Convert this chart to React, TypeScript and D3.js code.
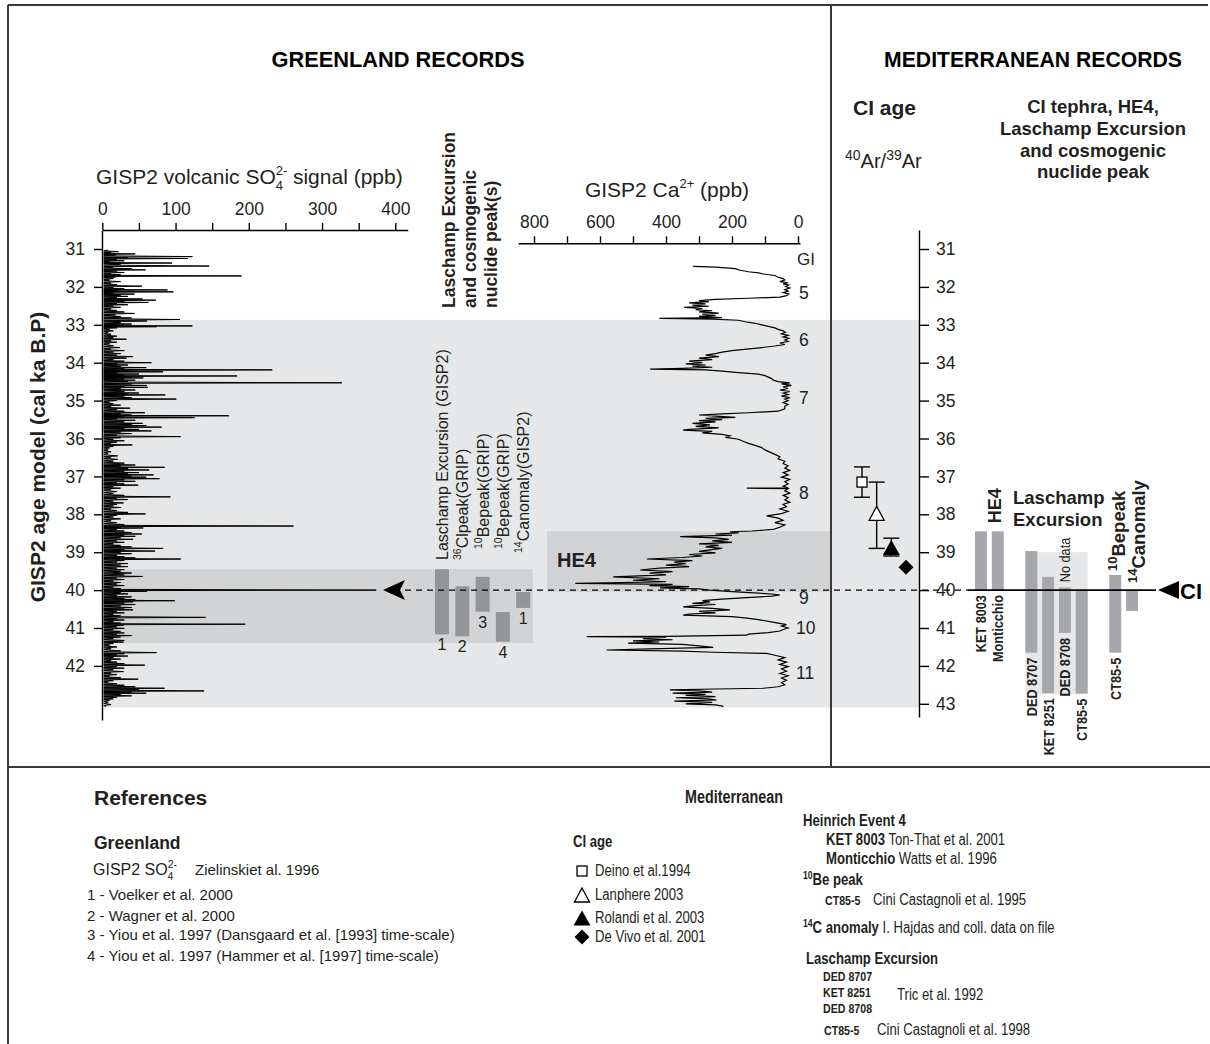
import { useEffect, useRef } from "react";
import * as d3 from "d3";

const FONT = "'Liberation Sans', Arial, Helvetica, sans-serif";
// the source uses a condensed face; squeeze Liberation Sans horizontally instead
const NS = 0.82;

// age axis (cal ka B.P.)
const leftAgeTicks = [31, 32, 33, 34, 35, 36, 37, 38, 39, 40, 41, 42];
const rightAgeTicks = [31, 32, 33, 34, 35, 36, 37, 38, 39, 40, 41, 42, 43];
const so4Ticks = [0, 50, 100, 150, 200, 250, 300, 350, 400];
const caTicks = [0, 100, 200, 300, 400, 500, 600, 700, 800];

// GISP2 volcanic SO4 signal: [age ka, ppb]
const so4Series: [number, number][] = [
  [31.03, 8], [31.07, 22], [31.1, 12], [31.13, 45], [31.16, 18], [31.2, 123], [31.23, 35], [31.25, 117],
  [31.28, 20], [31.31, 30], [31.34, 10], [31.37, 95], [31.4, 25], [31.45, 146], [31.48, 15], [31.52, 40],
  [31.55, 59], [31.58, 20], [31.62, 30], [31.65, 12], [31.68, 25], [31.71, 190], [31.74, 18], [31.78, 15],
  [31.82, 10], [31.86, 25], [31.9, 12], [31.94, 20], [31.98, 54], [32.02, 15], [32.05, 30], [32.08, 89],
  [32.11, 20], [32.13, 97], [32.16, 15], [32.19, 44], [32.22, 25], [32.25, 35], [32.28, 20], [32.32, 55],
  [32.35, 73], [32.38, 30], [32.41, 63], [32.44, 20], [32.47, 35], [32.5, 15], [32.54, 25], [32.58, 12],
  [32.62, 20], [32.66, 30], [32.7, 44], [32.74, 18], [32.78, 25], [32.82, 40], [32.86, 106], [32.9, 61],
  [32.94, 25], [32.98, 40], [33.01, 30], [33.03, 123], [33.05, 74], [33.08, 20], [33.12, 10], [33.16, 15],
  [33.2, 8], [33.25, 12], [33.3, 20], [33.34, 15], [33.38, 33], [33.42, 12], [33.46, 20], [33.5, 10],
  [33.55, 15], [33.6, 24], [33.64, 12], [33.68, 30], [33.72, 15], [33.76, 25], [33.8, 20], [33.84, 42],
  [33.88, 33], [33.92, 15], [33.96, 30], [34.0, 67], [34.03, 20], [34.06, 35], [34.1, 25], [34.13, 60],
  [34.16, 30], [34.19, 232], [34.22, 40], [34.24, 83], [34.27, 20], [34.3, 50], [34.33, 30], [34.35, 184],
  [34.38, 40], [34.4, 56], [34.43, 30], [34.46, 45], [34.49, 35], [34.53, 327], [34.56, 40], [34.6, 61],
  [34.63, 30], [34.65, 62], [34.68, 25], [34.72, 45], [34.76, 30], [34.8, 50], [34.83, 35], [34.85, 86],
  [34.88, 30], [34.92, 40], [34.96, 101], [35.0, 20], [35.04, 10], [35.08, 15], [35.12, 25], [35.16, 12],
  [35.2, 38], [35.24, 20], [35.28, 30], [35.32, 58], [35.35, 25], [35.38, 40], [35.4, 173], [35.43, 30],
  [35.45, 126], [35.48, 20], [35.52, 45], [35.56, 30], [35.6, 55], [35.63, 40], [35.66, 60], [35.7, 81],
  [35.73, 30], [35.76, 50], [35.8, 67], [35.83, 25], [35.87, 40], [35.91, 20], [35.95, 107], [35.98, 25],
  [36.02, 15], [36.06, 30], [36.1, 20], [36.14, 12], [36.17, 41], [36.21, 15], [36.25, 10], [36.3, 8],
  [36.35, 12], [36.4, 8], [36.46, 21], [36.5, 12], [36.55, 21], [36.6, 15], [36.65, 30], [36.7, 45],
  [36.73, 25], [36.76, 85], [36.79, 35], [36.83, 64], [36.86, 30], [36.9, 50], [36.93, 35], [36.96, 70],
  [36.99, 40], [37.02, 60], [37.06, 78], [37.09, 30], [37.13, 45], [37.17, 20], [37.2, 30], [37.23, 49],
  [37.27, 15], [37.31, 25], [37.35, 12], [37.4, 20], [37.45, 15], [37.5, 30], [37.54, 93], [37.57, 20],
  [37.61, 35], [37.65, 15], [37.7, 29], [37.74, 20], [37.78, 15], [37.82, 25], [37.86, 12], [37.9, 20],
  [37.95, 35], [37.99, 59], [38.03, 20], [38.07, 15], [38.12, 25], [38.17, 12], [38.22, 20], [38.27, 30],
  [38.31, 261], [38.34, 25], [38.36, 56], [38.4, 20], [38.44, 30], [38.48, 40], [38.52, 54], [38.55, 30],
  [38.58, 45], [38.62, 25], [38.66, 42], [38.7, 20], [38.74, 30], [38.78, 15], [38.82, 25], [38.86, 40],
  [38.9, 83], [38.93, 30], [38.97, 72], [39.0, 25], [39.04, 40], [39.08, 20], [39.12, 30], [39.15, 45],
  [39.18, 107], [39.22, 30], [39.26, 20], [39.3, 35], [39.34, 25], [39.38, 35], [39.42, 20], [39.46, 30],
  [39.5, 25], [39.55, 40], [39.6, 30], [39.64, 55], [39.68, 20], [39.72, 30], [39.76, 15], [39.8, 25],
  [39.84, 20], [39.88, 30], [39.92, 15], [39.96, 25], [40.0, 374], [40.03, 61], [40.06, 25], [40.1, 35],
  [40.14, 20], [40.18, 40], [40.22, 30], [40.25, 45], [40.28, 99], [40.31, 42], [40.34, 30], [40.38, 45],
  [40.42, 25], [40.46, 40], [40.5, 30], [40.52, 42], [40.56, 20], [40.6, 30], [40.64, 15], [40.68, 25],
  [40.72, 141], [40.75, 20], [40.79, 30], [40.83, 15], [40.87, 25], [40.9, 195], [40.93, 29], [40.97, 20],
  [41.01, 30], [41.05, 15], [41.09, 25], [41.13, 30], [41.17, 20], [41.2, 40], [41.24, 25], [41.28, 15],
  [41.33, 30], [41.37, 29], [41.41, 15], [41.45, 10], [41.5, 20], [41.55, 12], [41.6, 25], [41.65, 74],
  [41.68, 30], [41.71, 20], [41.74, 35], [41.78, 15], [41.82, 25], [41.86, 12], [41.9, 20], [41.94, 30],
  [41.98, 58], [42.02, 20], [42.06, 30], [42.1, 15], [42.15, 29], [42.19, 12], [42.23, 20], [42.27, 10],
  [42.31, 25], [42.35, 49], [42.39, 15], [42.43, 8], [42.47, 20], [42.51, 30], [42.55, 45], [42.59, 85],
  [42.62, 50], [42.66, 139], [42.69, 40], [42.72, 60], [42.75, 25], [42.79, 40], [42.83, 20], [42.87, 15],
  [42.91, 10], [42.96, 8], [43.02, 12], [43.07, 5],
];

// GISP2 Ca2+ record: [age ka, ppb]
const caSeries: [number, number][] = [
  [31.46, 318], [31.48, 250], [31.52, 190], [31.56, 175], [31.6, 150], [31.63, 120], [31.66, 105], [31.7, 70],
  [31.74, 62], [31.78, 45], [31.82, 40], [31.86, 55], [31.89, 30], [31.92, 45], [31.95, 28], [31.99, 38],
  [32.03, 25], [32.07, 40], [32.11, 30], [32.15, 45], [32.19, 28], [32.23, 35], [32.27, 55], [32.3, 150],
  [32.33, 250], [32.36, 300], [32.39, 270], [32.42, 330], [32.45, 280], [32.48, 320], [32.51, 270], [32.54, 345],
  [32.57, 290], [32.6, 310], [32.63, 260], [32.66, 300], [32.69, 240], [32.72, 290], [32.75, 250], [32.78, 300],
  [32.81, 230], [32.83, 420], [32.85, 260], [32.88, 180], [32.92, 160], [32.96, 130], [33.0, 110], [33.04, 90],
  [33.08, 70], [33.12, 60], [33.16, 45], [33.2, 38], [33.24, 50], [33.28, 30], [33.32, 45], [33.36, 28],
  [33.4, 40], [33.44, 30], [33.48, 55], [33.52, 40], [33.56, 70], [33.6, 110], [33.64, 155], [33.68, 200],
  [33.72, 230], [33.76, 250], [33.8, 280], [33.84, 240], [33.88, 300], [33.92, 260], [33.96, 330], [34.0, 290],
  [34.03, 340], [34.06, 280], [34.09, 320], [34.12, 260], [34.15, 350], [34.17, 448], [34.19, 280], [34.22, 230],
  [34.26, 180], [34.3, 120], [34.34, 100], [34.38, 90], [34.42, 80], [34.46, 75], [34.5, 60], [34.53, 25],
  [34.56, 50], [34.6, 20], [34.64, 45], [34.68, 30], [34.72, 55], [34.76, 25], [34.8, 45], [34.84, 30],
  [34.88, 50], [34.92, 25], [34.96, 40], [35.0, 30], [35.05, 45], [35.1, 30], [35.15, 40], [35.22, 40],
  [35.28, 60], [35.32, 150], [35.35, 230], [35.38, 300], [35.41, 250], [35.44, 190], [35.47, 280], [35.5, 230],
  [35.53, 300], [35.56, 250], [35.6, 320], [35.64, 267], [35.68, 310], [35.72, 240], [35.76, 330], [35.78, 348],
  [35.81, 260], [35.85, 290], [35.89, 230], [35.93, 206], [35.97, 220], [36.02, 180], [36.08, 165], [36.13, 150],
  [36.18, 130], [36.24, 110], [36.3, 100], [36.36, 85], [36.42, 70], [36.48, 55], [36.54, 60], [36.6, 40],
  [36.66, 45], [36.72, 30], [36.78, 40], [36.84, 25], [36.9, 45], [36.96, 30], [37.02, 50], [37.08, 25],
  [37.14, 40], [37.2, 30], [37.26, 45], [37.3, 30], [37.31, 155], [37.32, 30], [37.38, 40], [37.44, 25],
  [37.5, 45], [37.56, 30], [37.62, 40], [37.68, 25], [37.74, 45], [37.8, 35], [37.86, 55], [37.92, 30],
  [37.98, 50], [38.04, 95], [38.1, 60], [38.16, 45], [38.22, 70], [38.28, 40], [38.34, 55], [38.4, 75],
  [38.44, 140], [38.46, 206], [38.49, 180], [38.52, 250], [38.55, 200], [38.59, 357], [38.62, 250], [38.66, 210],
  [38.7, 260], [38.74, 200], [38.78, 300], [38.82, 240], [38.86, 280], [38.9, 230], [38.94, 267], [38.98, 300],
  [39.02, 250], [39.06, 330], [39.1, 290], [39.14, 350], [39.18, 458], [39.22, 320], [39.26, 375], [39.3, 340],
  [39.34, 400], [39.38, 330], [39.42, 420], [39.47, 478], [39.51, 380], [39.55, 450], [39.6, 400], [39.65, 560],
  [39.7, 420], [39.74, 500], [39.78, 400], [39.82, 675], [39.85, 380], [39.88, 450], [39.91, 330], [39.94, 418],
  [39.97, 300], [40.0, 267], [40.04, 200], [40.08, 120], [40.11, 70], [40.13, 55], [40.16, 80], [40.2, 155],
  [40.24, 230], [40.28, 290], [40.31, 267], [40.35, 320], [40.38, 250], [40.41, 310], [40.44, 348], [40.48, 260],
  [40.52, 206], [40.56, 300], [40.6, 250], [40.63, 330], [40.66, 348], [40.7, 200], [40.74, 155], [40.78, 120],
  [40.83, 85], [40.87, 60], [40.91, 35], [40.95, 50], [41.0, 30], [41.04, 45], [41.08, 55], [41.12, 90],
  [41.16, 150], [41.19, 155], [41.22, 400], [41.23, 640], [41.25, 400], [41.28, 470], [41.31, 380], [41.34, 500],
  [41.37, 420], [41.4, 515], [41.43, 350], [41.47, 300], [41.51, 257], [41.55, 450], [41.58, 580], [41.61, 350],
  [41.64, 257], [41.67, 95], [41.72, 70], [41.78, 40], [41.84, 60], [41.9, 35], [41.96, 55], [42.02, 30],
  [42.08, 50], [42.14, 35], [42.2, 55], [42.26, 30], [42.32, 50], [42.38, 35], [42.44, 50], [42.5, 40],
  [42.55, 60], [42.59, 105], [42.61, 250], [42.63, 388], [42.66, 300], [42.69, 260], [42.72, 380], [42.75, 280],
  [42.78, 340], [42.81, 250], [42.84, 370], [42.87, 270], [42.9, 247], [42.93, 375], [42.96, 260], [43.0, 340],
  [43.03, 250], [43.07, 226],
];

// Greenland interstadials
const giNames = ["5", "6", "7", "8", "9", "10", "11"];
const giAges = [32.16, 33.4, 34.93, 37.44, 40.2, 41.0, 42.19];

// shaded intervals (ka)
const lightBand = [32.87, 43.1];
const laschampBand = [39.45, 41.4];
const he4Band = [38.45, 40.05];
const noDataBand = [39.0, 42.75];
const ciAge = 40.0;

// Greenland Laschamp / cosmogenic nuclide peaks
const grBarSup = ["", "36", "10", "10", "14"];
const grBarName = ["Laschamp Excursion (GISP2)", "Clpeak(GRIP)", "Bepeak(GRIP)", "Bepeak(GRIP)", "Canomaly(GISP2)"];
const grBarRef = ["1", "2", "3", "4", "1"];
const grBarFrom = [39.45, 39.9, 39.65, 40.58, 40.05];
const grBarTo = [41.17, 41.22, 40.57, 41.36, 40.47];

// CI 40Ar/39Ar ages
const ciAgeNames = ["Deino et al.1994", "Lanphere 2003", "Rolandi et al. 2003", "De Vivo et al. 2001"];
const ciAgeValue = [37.15, 38.0, 38.9, 39.4];
const ciAgeLow = [36.75, 37.15, 38.63, null];
const ciAgeHigh = [37.55, 38.9, 39.1, null];

// Mediterranean records
const medSlots = ["ket8003", "monticchio", "gapA", "ded8707", "ket8251", "ded8708", "ct855L", "gapB", "ct855B", "c14"];
const medBarSlot = ["ket8003", "monticchio", "ded8707", "ket8251", "ded8708", "ct855L", "ct855B", "c14"];
const medBarLabel = ["KET 8003", "Monticchio", "DED 8707", "KET 8251", "DED 8708", "CT85-5", "CT85-5", ""];
const medBarFrom = [38.45, 38.45, 38.97, 39.65, 39.93, 40.0, 39.6, 40.0];
const medBarTo = [40.0, 40.0, 41.65, 42.72, 41.13, 42.73, 41.65, 40.55];

const y = d3.scaleLinear().domain([31, 43]).range([249, 703.8]);
const xSo4 = d3.scaleLinear().domain([0, 400]).range([102.3, 395.3]);
const xCa = d3.scaleLinear().domain([0, 800]).range([798, 534]);
const xGr = d3.scaleBand<number>().domain(d3.range(grBarRef.length)).range([435, 530.2]).paddingInner(0.31);
const xMed = d3.scaleBand<string>().domain(medSlots).range([975, 1138]).paddingInner(0.286);
const xCi = d3.scalePoint<string>().domain(ciAgeNames).range([862, 906]);

const LINE = "#3a3a3a";
const INK = "#231f20";

function so4Path() {
  const pts: [number, number][] = [];
  so4Series.forEach((d, i) => {
    pts.push(d);
    const n = so4Series[i + 1];
    if (n) pts.push([(d[0] + n[0]) / 2, 2]);
  });
  return d3.line<[number, number]>().x((d) => xSo4(d[1])).y((d) => y(d[0]))(pts) ?? "";
}

function caPath() {
  return d3.line<[number, number]>().x((d) => xCa(d[1])).y((d) => y(d[0]))(caSeries) ?? "";
}

function Marker({ i, cx, cy }: { i: number; cx: number; cy: number }) {
  if (i === 0) return <rect x={cx - 5} y={cy - 5} width={10} height={10} fill="#fff" stroke="#000" strokeWidth={1.3} />;
  if (i === 1)
    return <path d={`M${cx},${cy - 8} L${cx + 7.5},${cy + 6} L${cx - 7.5},${cy + 6}Z`} fill="#fff" stroke="#000" strokeWidth={1.3} />;
  if (i === 2) return <path d={`M${cx},${cy - 8.5} L${cx + 8.5},${cy + 6.5} L${cx - 8.5},${cy + 6.5}Z`} fill="#000" />;
  return <path d={`M${cx},${cy - 7.5} L${cx + 7.5},${cy} L${cx},${cy + 7.5} L${cx - 7.5},${cy}Z`} fill="#000" />;
}

// condensed text
function NText({ x, y: ty, rot, children, ...rest }: any) {
  return (
    <text transform={`translate(${x},${ty})${rot ? " rotate(-90)" : ""} scale(${NS},1)`} fill={INK} {...rest}>
      {children}
    </text>
  );
}

export default function App() {
  const so4AxisRef = useRef<SVGGElement>(null);
  const caAxisRef = useRef<SVGGElement>(null);
  const leftAxisRef = useRef<SVGGElement>(null);
  const rightAxisRef = useRef<SVGGElement>(null);

  useEffect(() => {
    const style = (g: d3.Selection<SVGGElement, unknown, null, undefined>) => {
      g.selectAll("path,line").attr("stroke", "#000").attr("stroke-width", 1.4);
      g.selectAll("text").attr("font-family", FONT).attr("font-size", 17.5).attr("fill", INK);
    };
    const so4Axis = xSo4.copy().domain([0, 417]).range([xSo4(0), xSo4(417)]);
    d3.select(so4AxisRef.current!)
      .call(
        d3.axisTop(so4Axis).tickValues(so4Ticks).tickSize(7).tickPadding(8).tickSizeOuter(0)
          .tickFormat((d) => ((d as number) % 100 === 0 ? String(d) : ""))
      )
      .call(style);
    const caAxis = xCa.copy().domain([-6, 848]).range([xCa(-6), xCa(848)]);
    d3.select(caAxisRef.current!)
      .call(
        d3.axisTop(caAxis).tickValues(caTicks).tickSize(7).tickPadding(8).tickSizeOuter(0)
          .tickFormat((d) => ((d as number) % 200 === 0 ? String(d) : ""))
      )
      .call(style);
    const leftAxis = y.copy().domain([30.5, 43.43]).range([y(30.5), y(43.43)]);
    d3.select(leftAxisRef.current!)
      .call(d3.axisLeft(leftAxis).tickValues(leftAgeTicks).tickSize(8).tickPadding(9).tickSizeOuter(0))
      .call(style);
    const rightAxis = y.copy().domain([30.5, 43.35]).range([y(30.5), y(43.35)]);
    d3.select(rightAxisRef.current!)
      .call(d3.axisRight(rightAxis).tickValues(rightAgeTicks).tickSize(10).tickPadding(7).tickSizeOuter(0))
      .call(style);
  }, []);

  const yCi = y(ciAge);
  const grLabelStart = [560, 560, 549, 549, 553];
  const legendY = [876, 900, 923, 942];
  const medBand = xMed.bandwidth();

  return (
    <svg width={1210} height={1044} style={{ position: "absolute", left: 0, top: 0, background: "#fff" }} fontFamily={FONT}>
      <rect width={1210} height={1044} fill="#fff" />

      {/* shaded intervals */}
      <rect x={102} y={y(lightBand[0])} width={919 - 102} height={y(lightBand[1]) - y(lightBand[0])} fill="#e6e7e8" />
      <rect x={102} y={y(laschampBand[0])} width={533 - 102} height={y(laschampBand[1]) - y(laschampBand[0])} fill="#d1d3d4" />
      <rect x={547} y={y(he4Band[0])} width={830 - 547} height={y(he4Band[1]) - y(he4Band[0])} fill="#d1d3d4" />
      <rect
        x={xMed("ded8707")!}
        y={y(noDataBand[0])}
        width={xMed("ct855L")! + medBand - xMed("ded8707")!}
        height={y(noDataBand[1]) - y(noDataBand[0])}
        fill="#e6e7e8"
      />

      {/* Greenland nuclide bars */}
      {grBarRef.map((r, i) => (
        <g key={"gb" + i}>
          <rect x={xGr(i)!} y={y(grBarFrom[i])} width={xGr.bandwidth()} height={y(grBarTo[i]) - y(grBarFrom[i])} fill="#939598" />
          <text x={xGr(i)! + xGr.bandwidth() / 2} y={y(grBarTo[i]) + 16} textAnchor="middle" fontSize={16} fill={INK}>
            {r}
          </text>
          <text transform={`translate(${xGr(i)! + xGr.bandwidth() / 2 + 6},${grLabelStart[i]}) rotate(-90)`} fontSize={16} fill={INK}>
            {grBarSup[i] && (
              <tspan fontSize={10.5} dy={-7}>
                {grBarSup[i]}
              </tspan>
            )}
            <tspan dy={grBarSup[i] ? 7 : 0}>{grBarName[i]}</tspan>
          </text>
        </g>
      ))}

      {/* Mediterranean bars */}
      {medBarSlot.map((s, i) => (
        <g key={"mb" + i}>
          <rect x={xMed(s)!} y={y(medBarFrom[i])} width={medBand} height={y(medBarTo[i]) - y(medBarFrom[i])} fill="#a5a7aa" />
          {medBarLabel[i] && (
            <NText x={xMed(s)! + medBand / 2 + 5.5} y={y(medBarTo[i]) + 5} rot textAnchor="end" fontWeight="bold" fontSize={15.5}>
              {medBarLabel[i]}
            </NText>
          )}
        </g>
      ))}
      <NText x={xMed("ded8708")! + medBand / 2 + 5} y={y(noDataBand[0]) + 30} rot fontSize={15.5}>
        No data
      </NText>

      {/* signals */}
      <path d={so4Path()} fill="none" stroke="#000" strokeWidth={1} />
      <path d={caPath()} fill="none" stroke="#000" strokeWidth={1.2} />

      {/* axes */}
      <g ref={so4AxisRef} transform="translate(0,230)" />
      <g ref={caAxisRef} transform="translate(0,243.3)" />
      <g ref={leftAxisRef} transform="translate(102,0)" />
      <g ref={rightAxisRef} transform="translate(919,0)" />

      {/* CI line */}
      <line x1={405} x2={968} y1={yCi} y2={yCi} stroke="#000" strokeWidth={1.4} strokeDasharray="6,5" />
      <line x1={968} x2={1156} y1={yCi} y2={yCi} stroke="#000" strokeWidth={1.6} />
      <path d={`M383,${yCi} L405,${yCi - 10} L400,${yCi} L405,${yCi + 10}Z`} fill="#000" />
      <path d={`M1158,${yCi} L1179,${yCi - 9} L1179,${yCi + 9}Z`} fill="#000" />
      <text x={1180} y={yCi + 8.5} fontSize={22} fontWeight="bold" fill="#000">
        CI
      </text>

      {/* CI age markers */}
      {ciAgeNames.map((n, i) => {
        const cx = xCi(n)!;
        const lo = ciAgeLow[i];
        const hi = ciAgeHigh[i];
        return (
          <g key={n}>
            {lo !== null && hi !== null && (
              <g stroke="#000" strokeWidth={1.4}>
                <line x1={cx} x2={cx} y1={y(lo)} y2={y(hi)} />
                <line x1={cx - 8} x2={cx + 8} y1={y(lo)} y2={y(lo)} />
                <line x1={cx - 8} x2={cx + 8} y1={y(hi)} y2={y(hi)} />
              </g>
            )}
            <Marker i={i} cx={cx} cy={y(ciAgeValue[i])} />
          </g>
        );
      })}

      {/* GI labels */}
      <text x={797} y={265} fontSize={17} fill={INK}>
        GI
      </text>
      {giNames.map((g, i) => (
        <text key={g} x={g.length > 1 ? 796 : 799} y={y(giAges[i]) + 6} fontSize={17.5} fill={INK}>
          {g}
        </text>
      ))}

      <text x={557} y={567} fontSize={20} fontWeight="bold" fill={INK}>
        HE4
      </text>

      {/* headers */}
      <text x={398} y={67} textAnchor="middle" fontSize={21.8} fontWeight="bold" fill="#000">
        GREENLAND RECORDS
      </text>
      <text x={1033} y={67} textAnchor="middle" fontSize={21.2} fontWeight="bold" fill="#000">
        MEDITERRANEAN RECORDS
      </text>

      <text x={96} y={184} fontSize={21} fill={INK}>
        GISP2 volcanic SO
        <tspan fontSize={13} dy={-9}>
          2-
        </tspan>
        <tspan fontSize={13} dx={-11.6} dy={15}>
          4
        </tspan>
        <tspan dx={10} dy={-6}>
          signal (ppb)
        </tspan>
      </text>
      <text x={667} y={197} textAnchor="middle" fontSize={21} fill={INK}>
        GISP2 Ca
        <tspan fontSize={13} dy={-9}>
          2+
        </tspan>
        <tspan dy={9}> (ppb)</tspan>
      </text>

      <text transform="translate(45,457) rotate(-90)" textAnchor="middle" fontSize={21} fontWeight="bold" fill={INK}>
        GISP2 age model (cal ka B.P)
      </text>

      <g fontSize={17.5} fontWeight="bold" fill={INK}>
        <text transform="translate(455,308) rotate(-90)">Laschamp Excursion</text>
        <text transform="translate(476,308) rotate(-90)">and cosmogenic</text>
        <text transform="translate(497,308) rotate(-90)">nuclide peak(s)</text>
      </g>

      <text x={853} y={115} fontSize={21} fontWeight="bold" fill={INK}>
        CI age
      </text>
      <text x={845} y={168} fontSize={20} fill={INK}>
        <tspan fontSize={14} dy={-8}>
          40
        </tspan>
        <tspan dy={8}>Ar/</tspan>
        <tspan fontSize={14} dy={-8}>
          39
        </tspan>
        <tspan dy={8}>Ar</tspan>
      </text>
      <g fontSize={18.5} fontWeight="bold" fill={INK} textAnchor="middle">
        <text x={1093} y={113}>CI tephra, HE4,</text>
        <text x={1093} y={135}>Laschamp Excursion</text>
        <text x={1093} y={157}>and cosmogenic</text>
        <text x={1093} y={178}>nuclide peak</text>
      </g>

      <text transform={`translate(1001,${y(he4Band[0]) - 8}) rotate(-90)`} fontSize={18} fontWeight="bold" fill={INK}>
        HE4
      </text>
      <text x={1013} y={504} fontSize={18.5} fontWeight="bold" fill={INK}>
        Laschamp
      </text>
      <text x={1013} y={526} fontSize={18.5} fontWeight="bold" fill={INK}>
        Excursion
      </text>
      <text transform={`translate(1125,571) rotate(-90)`} fontSize={18.5} fontWeight="bold" fill={INK}>
        <tspan fontSize={13} dy={-8}>
          10
        </tspan>
        <tspan dy={8}>Bepeak</tspan>
      </text>
      <text transform={`translate(1145,583) rotate(-90)`} fontSize={18.5} fontWeight="bold" fill={INK}>
        <tspan fontSize={13} dy={-8}>
          14
        </tspan>
        <tspan dy={8}>Canomaly</tspan>
      </text>

      {/* frame */}
      <g stroke={LINE} strokeWidth={2}>
        <line x1={8} x2={1208} y1={5} y2={5} />
        <line x1={8} x2={8} y1={5} y2={1044} />
        <line x1={831} x2={831} y1={5} y2={767} />
        <line x1={8} x2={1210} y1={767} y2={767} />
      </g>

      {/* references: Greenland */}
      <text x={94} y={805} fontSize={21} fontWeight="bold" fill={INK}>
        References
      </text>
      <text x={94} y={849} fontSize={17.5} fontWeight="bold" fill={INK}>
        Greenland
      </text>
      <text x={93} y={875} fontSize={16} fill={INK}>
        GISP2 SO
        <tspan fontSize={10.5} dy={-7}>
          2-
        </tspan>
        <tspan fontSize={10.5} dx={-9.5} dy={12}>
          4
        </tspan>
      </text>
      <text x={195} y={875} fontSize={15} fill={INK}>
        Zielinskiet al. 1996
      </text>
      <g fontSize={15} fill={INK}>
        <text x={87} y={900}>1 - Voelker et al. 2000</text>
        <text x={87} y={921}>2 - Wagner et al. 2000</text>
        <text x={87} y={940}>3 - Yiou et al. 1997 (Dansgaard et al. [1993] time-scale)</text>
        <text x={87} y={961}>4 - Yiou et al. 1997 (Hammer et al. [1997] time-scale)</text>
      </g>

      {/* references: Mediterranean */}
      <NText x={685} y={803} fontSize={17.5} fontWeight="bold">
        Mediterranean
      </NText>
      <NText x={573} y={847} fontSize={16} fontWeight="bold">
        CI age
      </NText>
      {ciAgeNames.map((n, i) => (
        <g key={"lg" + n}>
          <Marker i={i} cx={582} cy={legendY[i] - 5 + (i === 1 || i === 2 ? 1 : 0)} />
          <NText x={595} y={legendY[i]} fontSize={16}>
            {n}
          </NText>
        </g>
      ))}
      <NText x={803} y={826} fontSize={16} fontWeight="bold">
        Heinrich Event 4
      </NText>
      <NText x={826} y={845} fontSize={16}>
        <tspan fontWeight="bold">KET 8003</tspan> Ton-That et al. 2001
      </NText>
      <NText x={826} y={864} fontSize={16}>
        <tspan fontWeight="bold">Monticchio</tspan> Watts et al. 1996
      </NText>
      <NText x={803} y={885} fontSize={16} fontWeight="bold">
        <tspan fontSize={10.5} dy={-6}>
          10
        </tspan>
        <tspan dy={6}>Be peak</tspan>
      </NText>
      <NText x={825} y={905} fontSize={13} fontWeight="bold">
        CT85-5
      </NText>
      <NText x={873} y={905} fontSize={16}>
        Cini Castagnoli et al. 1995
      </NText>
      <NText x={803} y={933} fontSize={16}>
        <tspan fontSize={10.5} fontWeight="bold" dy={-6}>
          14
        </tspan>
        <tspan fontWeight="bold" dy={6}>
          C anomaly
        </tspan>{" "}
        I. Hajdas and coll. data on file
      </NText>
      <NText x={806} y={964} fontSize={16} fontWeight="bold">
        Laschamp Excursion
      </NText>
      <NText x={823} y={981} fontSize={13} fontWeight="bold">
        DED 8707
      </NText>
      <NText x={823} y={997} fontSize={13} fontWeight="bold">
        KET 8251
      </NText>
      <NText x={823} y={1013} fontSize={13} fontWeight="bold">
        DED 8708
      </NText>
      <NText x={897} y={1000} fontSize={16}>
        Tric et al. 1992
      </NText>
      <NText x={824} y={1035} fontSize={13} fontWeight="bold">
        CT85-5
      </NText>
      <NText x={877} y={1035} fontSize={16}>
        Cini Castagnoli et al. 1998
      </NText>
    </svg>
  );
}
